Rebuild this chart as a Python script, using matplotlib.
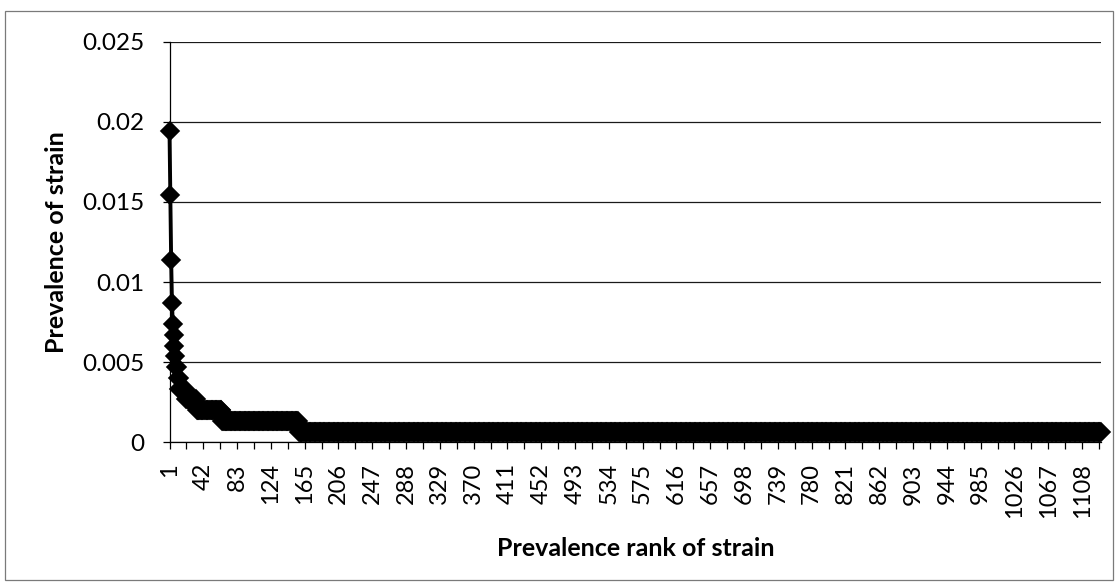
import numpy as np
import matplotlib
matplotlib.use("Agg")
import matplotlib.pyplot as plt
from matplotlib.patches import Rectangle

# Frequency table: how many isolates a strain has, and how many strains share that count
isolate_counts = [29, 23, 17, 13, 11, 10, 9, 8, 7, 6, 5, 4, 3, 2, 1]
strains_with_count = [1, 1, 1, 1, 1, 1, 1, 1, 2, 2, 8, 13, 31, 93, 974]

y_ticks = [0, 0.005, 0.01, 0.015, 0.02, 0.025]
y_tick_labels = ["0", "0.005", "0.01", "0.015", "0.02", "0.025"]
x_label_step = 41

# Prevalence of each strain, ordered by rank
counts = np.repeat(isolate_counts, strains_with_count)
prevalence = counts / counts.sum()
ranks = np.arange(1, len(prevalence) + 1)
n = len(ranks)

plt.rcParams["font.family"] = ["Lato", "DejaVu Sans"]

W, H = 1118, 585
fig = plt.figure(figsize=(W / 100, H / 100), dpi=100)

# chart-area border
fig.patches.append(Rectangle((5 / W, 1 - 580 / H), (1113 - 5) / W, (580 - 11) / H,
                             transform=fig.transFigure, fill=False,
                             edgecolor="#7a7a7a", linewidth=0.9))

left, right, top, bottom = 169.5, 1101, 41.7, 442.3
ax = fig.add_axes([left / W, 1 - bottom / H, (right - left) / W, (bottom - top) / H])

ax.plot(ranks, prevalence, color="black", linewidth=2.8, marker="D",
        markersize=9.5, markerfacecolor="black", markeredgecolor="black",
        markeredgewidth=1.2, clip_on=False, zorder=3)

ax.set_xlim(1, n)
ax.set_ylim(0, 0.025)

ax.set_yticks(y_ticks)
ax.set_yticklabels(y_tick_labels)
ax.yaxis.grid(True, color="#1a1a1a", linewidth=0.9)
ax.set_axisbelow(True)

label_pos = np.arange(1, n + 1, x_label_step)
ax.set_xticks(label_pos)
ax.set_xticklabels([str(v) for v in label_pos], rotation=90)
ax.set_xticks(label_pos + x_label_step / 2, minor=True)

for s in ["top", "right"]:
    ax.spines[s].set_visible(False)
for s in ["left", "bottom"]:
    ax.spines[s].set_color("black")
    ax.spines[s].set_linewidth(0.9)

ax.tick_params(axis="y", length=5, width=0.9, pad=13, labelsize=17.5, color="black")
ax.tick_params(axis="x", which="both", length=5, width=0.9, pad=10,
               labelsize=17, color="black")

fig.text(57 / W, 1 - 242 / H, "Prevalence of strain", rotation=90,
         ha="center", va="center", fontsize=18, fontweight="bold")
fig.text(636 / W, 1 - 548 / H, "Prevalence rank of strain",
         ha="center", va="center", fontsize=18, fontweight="bold")

fig.savefig("out.png", dpi=100)
